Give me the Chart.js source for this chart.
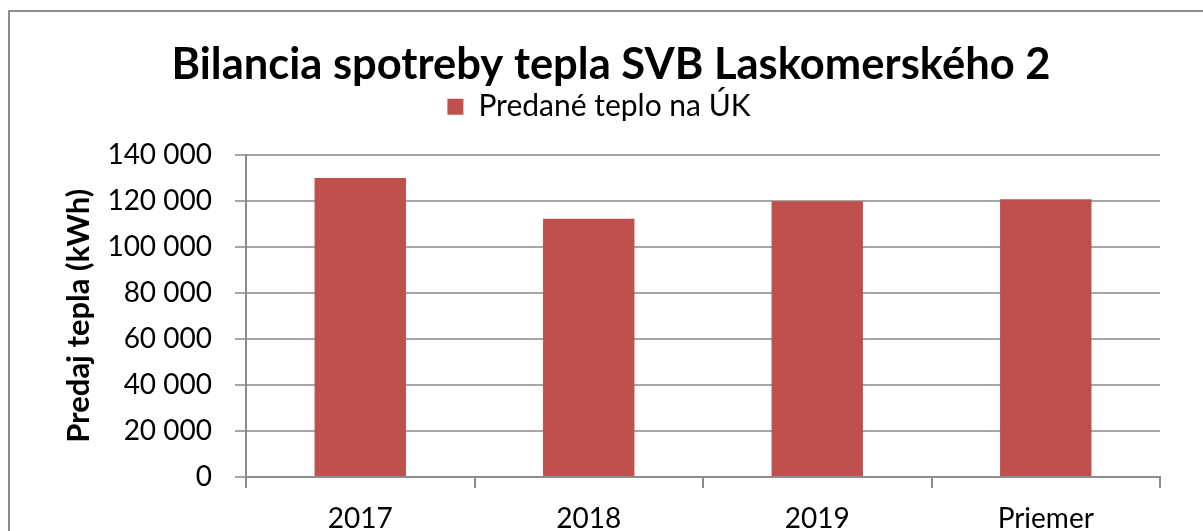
<!DOCTYPE html>
<html>
<head>
<meta charset="utf-8">
<script src="https://cdn.jsdelivr.net/npm/chart.js@4.4.0/dist/chart.umd.min.js"></script>
<style>
    html, body { margin: 0; padding: 0; background: #fff; overflow: hidden; }
    #frame {
        position: absolute; left: 8px; top: 10px;
        width: 1240px; height: 560px;
        border: 2px solid #8c8c8c;
    }
    #chart-canvas { position: absolute; left: 0; top: 0; }
</style>
</head>
<body>
<div id="frame"></div>
<canvas id="chart-canvas" width="1203" height="531"></canvas>
<script>
// Chart data
const categories = ['2017', '2018', '2019', 'Priemer'];
const heatSold = [129900, 112200, 119800, 120600];
const seriesName = 'Predané teplo na ÚK';
const chartTitle = 'Bilancia spotreby tepla SVB Laskomerského 2';
const yAxisTitle = 'Predaj tepla (kWh)';

const fontFamily = 'Lato, "Open Sans", sans-serif';

// extra gap under the legend
const legendGap = {
    id: 'legendGap',
    beforeInit(chart) {
        const originalFit = chart.legend.fit;
        chart.legend.fit = function() {
            originalFit.bind(chart.legend)();
            this.height += 23;
        };
    }
};

// the original chart is wider than the picture, so title and legend sit a bit right
const headerShift = {
    id: 'headerShift',
    afterLayout(chart) {
        chart.titleBlock.left += 26;
        chart.titleBlock.right += 26;
        chart.legend.left += 14;
        chart.legend.right += 14;
    }
};

document.addEventListener('DOMContentLoaded', function() {
    const ctx = document.getElementById('chart-canvas').getContext('2d');

    window.heatChart = new Chart(ctx, {
        type: 'bar',
        data: {
            labels: categories,
            datasets: [{
                label: seriesName,
                data: heatSold,
                backgroundColor: '#c0504d',
                borderWidth: 0,
                categoryPercentage: 0.4,
                barPercentage: 1
            }]
        },
        options: {
            responsive: false,
            animation: false,
            layout: {
                padding: { top: 12, left: 10, right: 43, bottom: 0 }
            },
            plugins: {
                title: {
                    display: true,
                    text: chartTitle,
                    color: '#000',
                    font: { family: fontFamily, size: 43.5, weight: 'bold', lineHeight: 0.75 },
                    padding: { top: 37, bottom: 0 }
                },
                legend: {
                    display: true,
                    labels: {
                        color: '#000',
                        font: { family: fontFamily, size: 30 },
                        boxWidth: 16,
                        boxHeight: 16,
                        padding: 10
                    }
                },
                tooltip: { enabled: false }
            },
            scales: {
                x: {
                    grid: {
                        offset: true,
                        drawOnChartArea: false,
                        tickLength: 11,
                        color: '#8c8c8c',
                        lineWidth: 2
                    },
                    border: { color: '#8c8c8c', width: 2 },
                    ticks: {
                        color: '#000',
                        font: { family: fontFamily, size: 28 },
                        padding: 14
                    },
                    afterFit: function(scale) {
                        scale.height = 54;
                    }
                },
                y: {
                    min: 0,
                    max: 140000,
                    ticks: {
                        stepSize: 20000,
                        color: '#000',
                        font: { family: fontFamily, size: 28 },
                        padding: 23,
                        callback: function(value) {
                            return value.toLocaleString('en-US').replace(/,/g, ' ');
                        }
                    },
                    grid: {
                        color: '#a6a6a6',
                        lineWidth: 2,
                        tickLength: 11
                    },
                    border: { color: '#8c8c8c', width: 2 },
                    title: {
                        display: true,
                        text: yAxisTitle,
                        color: '#000',
                        font: { family: fontFamily, size: 31, weight: 'bold' },
                        padding: { top: 50, bottom: 0 }
                    },
                    afterFit: function(scale) {
                        scale.width = 236;
                    }
                }
            }
        },
        plugins: [legendGap, headerShift]
    });
});
</script>
</body>
</html>
